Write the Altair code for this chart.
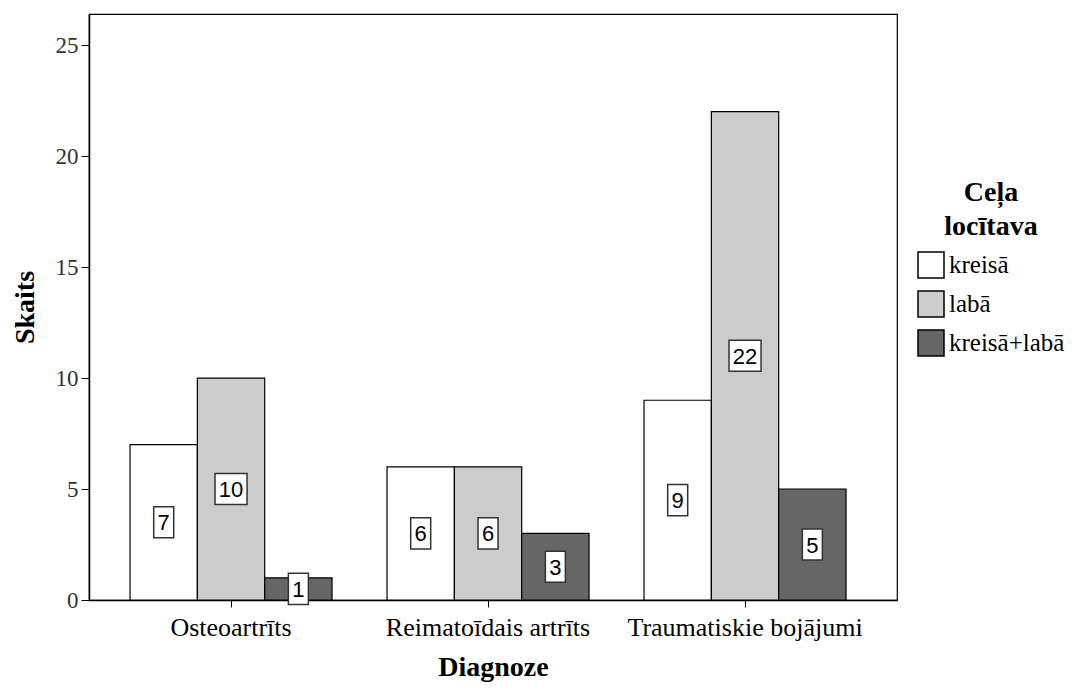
import altair as alt
import pandas as pd

diagnoses = ["Osteoartrīts", "Reimatoīdais artrīts", "Traumatiskie bojājumi"]
groups = ["kreisā", "labā", "kreisā+labā"]
kreisa = [7, 6, 9]
laba = [10, 6, 22]
abas = [1, 3, 5]
colors = ["#ffffff", "#cccccc", "#666666"]

rows = []
for i, d in enumerate(diagnoses):
    for g, vals in zip(groups, [kreisa, laba, abas]):
        v = vals[i]
        rows.append(dict(d=d, g=g, v=v, mid=v / 2, lo=v / 2 - 0.7, hi=v / 2 + 0.7,
                         lbl=str(v), bw=8 + 12 * len(str(v))))
df = pd.DataFrame(rows)

SERIF = "Liberation Serif"

xenc = alt.X("d:N", sort=diagnoses,
             scale=alt.Scale(paddingInner=0.214, paddingOuter=0.179, align=0.446),
             axis=alt.Axis(title="Diagnoze", labelAngle=0, labelFont=SERIF, labelFontSize=26,
                           labelLimit=0, labelColor="black", titleFont=SERIF, titleFontSize=28,
                           titleFontWeight="bold", titleColor="black", tickSize=7,
                           tickColor="black", domainColor="black", domainWidth=1.5,
                           labelPadding=7, titlePadding=13))
xoff = alt.XOffset("g:N", sort=groups, scale=alt.Scale(paddingInner=0, paddingOuter=0))
yaxis = alt.Axis(title="Skaits", values=[0, 5, 10, 15, 20, 25], grid=False,
                 labelFont=SERIF, labelFontSize=23, labelColor="#333333",
                 titleFont=SERIF, titleFontSize=28, titleFontWeight="bold",
                 titleColor="black", tickSize=8, tickColor="black", domainColor="black",
                 domainWidth=1.5, labelPadding=3, titlePadding=16)
yscale = alt.Scale(domain=[0, 26.4], nice=False, zero=False)

bars = alt.Chart(df).mark_bar(stroke="black", strokeWidth=1.2).encode(
    x=xenc, xOffset=xoff,
    y=alt.Y("v:Q", scale=yscale, axis=yaxis),
    color=alt.Color("g:N", sort=groups,
                    scale=alt.Scale(domain=groups, range=colors),
                    legend=alt.Legend(title=["Ceļa", "locītava"], orient="none",
                                      legendX=828, legendY=165,
                                      titleFont=SERIF, titleFontSize=28, titleFontWeight="bold",
                                      titleColor="black", titleAnchor="middle", titleAlign="center",
                                      titleLineHeight=34, titlePadding=10,
                                      symbolType="square", symbolSize=676,
                                      symbolStrokeColor="black", symbolStrokeWidth=1.5,
                                      labelFont=SERIF, labelFontSize=25, labelColor="black",
                                      labelLimit=0, labelOffset=4, rowPadding=7)),
)

boxes = alt.Chart(df).mark_bar(fill="white", stroke="#333333", strokeWidth=1.5).encode(
    x=xenc, xOffset=xoff,
    y=alt.Y("lo:Q", scale=yscale, axis=yaxis),
    y2="hi:Q",
    size=alt.Size("bw:Q", scale=None),
)

labels = alt.Chart(df).mark_text(font="Liberation Sans", fontSize=22, color="black",
                                 baseline="middle", align="center", dy=1).encode(
    x=xenc, xOffset=xoff,
    y=alt.Y("mid:Q", scale=yscale, axis=yaxis),
    text="lbl:N",
)

chart = alt.layer(bars, boxes, labels).properties(
    width=808, height=586,
    padding={"left": 81, "top": 6, "right": 175, "bottom": 83},
    autosize=alt.AutoSizeParams(type="none"),
).configure(background="white",
            view=alt.ViewConfig(stroke="black", strokeWidth=1.2))

chart.save("out.html", embed_options={"renderer": "svg", "actions": False})
